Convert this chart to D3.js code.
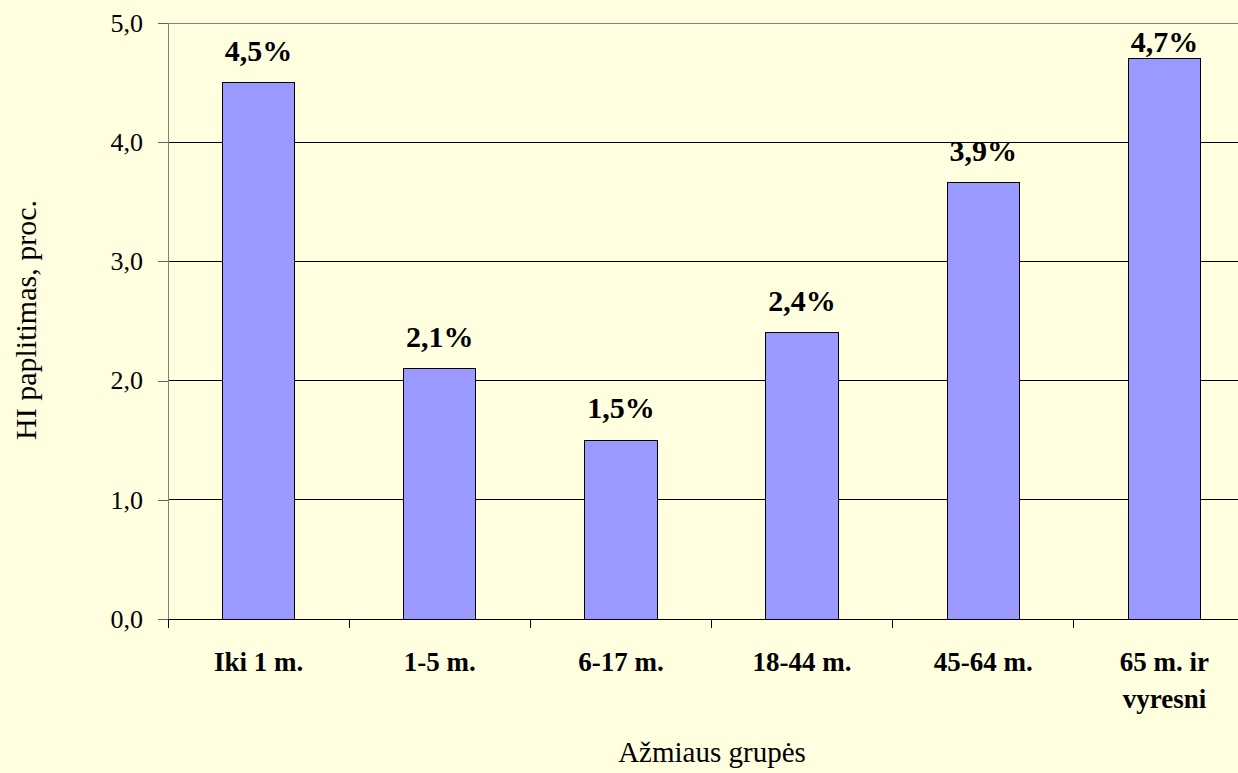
<!DOCTYPE html>
<html><head><meta charset="utf-8">
<script src="https://cdn.jsdelivr.net/npm/d3@7"></script>
<style>html,body{margin:0;padding:0;background:#FFFFE0;}svg{display:block;}</style>
</head><body>
<script>
const categories = [["Iki 1 m."],["1-5 m."],["6-17 m."],["18-44 m."],["45-64 m."],["65 m. ir","vyresni"]];
// bar heights as drawn in the picture
const values = [4.5, 2.1, 1.5, 2.4, 3.66, 4.7];
// data labels as printed in the picture
const valueLabels = ["4,5%", "2,1%", "1,5%", "2,4%", "3,9%", "4,7%"];
const yTicks = [0,1,2,3,4,5];
const yTitle = "HI paplitimas, proc.";
const xTitle = "Ažmiaus grupės";

const W = 1238, H = 773;
const mLeft = 168, mTop = 23, mRight = 1255, mBottom = 619;
const FONT = "Liberation Serif, Times New Roman, serif";
const svg = d3.select("body").append("svg").attr("width", W).attr("height", H);
svg.append("rect").attr("width", W).attr("height", H).attr("fill", "#FFFFE0");

const x = d3.scaleBand().domain(d3.range(categories.length)).range([mLeft, mRight]).paddingInner(0.6).paddingOuter(0.3);
const xs = d3.scaleBand().domain(d3.range(categories.length)).range([mLeft, mRight]);
const y = d3.scaleLinear().domain([0, 5]).range([mBottom, mTop]);
const fmt = v => d3.format(".1f")(v).replace(".", ",");

// gridlines
svg.append("g").selectAll("line").data(yTicks.filter(t => t > 0)).join("line")
  .attr("x1", mLeft).attr("x2", mRight).attr("y1", d => y(d)).attr("y2", d => y(d))
  .attr("stroke", d => d === 5 ? "#808080" : "#000").attr("stroke-width", 1).attr("shape-rendering", "crispEdges");

// y axis
const yAxis = d3.axisLeft(y).tickValues(yTicks).tickFormat(fmt).tickSize(10).tickPadding(15);
const gy = svg.append("g").attr("transform", `translate(${mLeft},0)`).call(yAxis);
gy.attr("font-family", FONT).attr("font-size", 26);
gy.select(".domain").attr("stroke", "#808080").attr("d", `M0,${mTop}V${mBottom}`).attr("shape-rendering", "crispEdges");
gy.selectAll(".tick line").attr("stroke", "#606060").attr("shape-rendering", "crispEdges");
gy.selectAll(".tick text").attr("font-family", FONT).attr("font-size", 26).attr("fill", "#000");

// bars
svg.append("g").selectAll("rect").data(values).join("rect")
  .attr("x", (d, i) => x(i)).attr("width", x.bandwidth())
  .attr("y", d => y(d)).attr("height", d => y(0) - y(d))
  .attr("fill", "#9999FF").attr("stroke", "#000").attr("stroke-width", 1).attr("shape-rendering", "crispEdges");

// value labels
svg.append("g").selectAll("text").data(values).join("text")
  .attr("x", (d, i) => x(i) + x.bandwidth() / 2).attr("y", d => Math.max(y(d) - 22, mTop + 29))
  .attr("text-anchor", "middle").attr("font-family", FONT)
  .attr("font-weight", "bold").attr("font-size", 30).text((d, i) => valueLabels[i]);

// x axis
const gx = svg.append("g").attr("transform", `translate(0,${mBottom})`);
gx.append("line").attr("x1", mLeft).attr("x2", mRight).attr("stroke", "#000").attr("shape-rendering", "crispEdges");
gx.selectAll(".tk").data(d3.range(categories.length + 1)).join("line").attr("class", "tk")
  .attr("x1", i => mLeft + i * xs.step()).attr("x2", i => mLeft + i * xs.step())
  .attr("y1", 0).attr("y2", 9).attr("stroke", "#000").attr("shape-rendering", "crispEdges");
const lbl = gx.selectAll(".lbl").data(categories).join("text").attr("class", "lbl")
  .attr("text-anchor", "middle").attr("font-family", FONT)
  .attr("font-weight", "bold").attr("font-size", 27);
lbl.each(function(d, i) {
  const t = d3.select(this);
  d.forEach((s, j) => t.append("tspan").attr("x", xs(i) + xs.bandwidth() / 2).attr("y", 52 + j * 37).text(s));
});

// titles
svg.append("text").attr("x", 712).attr("y", 762).attr("text-anchor", "middle")
  .attr("font-family", FONT).attr("font-size", 29).text(xTitle);
svg.append("text").attr("transform", `translate(36,320) rotate(-90)`).attr("text-anchor", "middle")
  .attr("font-family", FONT).attr("font-size", 30).text(yTitle);
</script>
</body></html>
